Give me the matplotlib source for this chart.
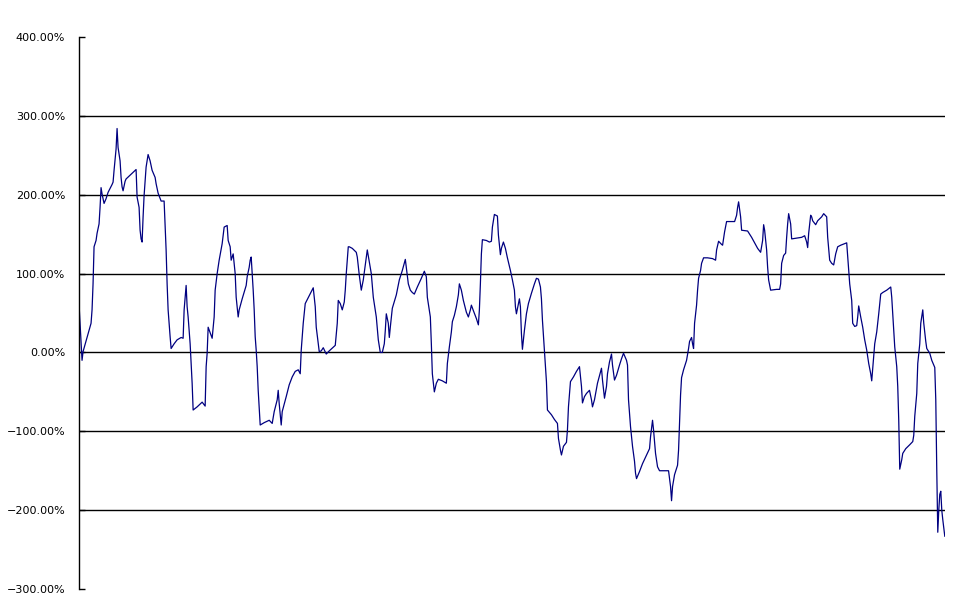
import numpy as np
import matplotlib.pyplot as plt
from matplotlib.ticker import MultipleLocator, FuncFormatter

# observation number (trading day) and cumulative return in %
day = [0, 3, 4, 12, 13, 14, 15, 17, 18, 20, 21, 22, 23, 25, 27, 29, 33, 34, 35, 37,
       38, 39, 41, 42, 43, 44, 46, 47, 52, 57, 58, 60, 61, 62, 63, 64, 65, 67, 69, 71,
       73, 76, 77, 79, 82, 85, 87, 88, 89, 91, 92, 95, 98, 102, 104, 105, 106, 107, 108, 109,
       111, 112, 113, 114, 118, 123, 126, 127, 128, 129,
       133, 135, 136, 138, 140, 143, 145, 148, 149, 151, 152, 153, 154, 156, 157, 159, 160, 163,
       167, 168, 170, 171, 172, 173, 174, 175, 176, 177, 178, 179, 181, 185, 190, 193, 195, 198,
       199, 200, 202, 203, 207, 210, 213, 216, 219, 221, 222, 224, 226, 230, 234, 236, 237, 239,
       240, 242, 244, 247, 250, 256, 258, 259, 261, 263, 265, 266, 267, 269, 270,
       273, 277, 278, 280, 282, 284, 286, 288, 290, 292, 294, 297, 299, 301, 303, 305, 306, 307,
       309, 310, 311, 313, 317, 320, 323, 326, 327, 329, 331, 333, 335, 338, 342, 345, 347, 348,
       351, 352, 353, 355, 357, 359, 363, 367, 368, 370, 372, 373, 375, 377, 379, 380, 382, 384,
       387, 389, 391, 392, 394, 397, 399, 400, 401, 402, 403, 407,
       410, 412, 413, 415, 418, 419, 421, 422, 424, 426, 428, 431, 433, 435, 436, 437, 439, 440,
       441, 442, 443, 445, 447, 449, 452, 455, 457, 459, 461, 462, 463, 465, 467, 468, 472, 475,
       478, 479, 481, 482, 484, 487, 488, 489, 491, 494, 497, 500, 502, 503, 505, 507, 510, 512,
       513, 515, 518, 522, 523, 525, 527, 528, 530, 532, 533, 535, 537, 540, 542, 544, 547, 548,
       549, 551, 553, 555, 556, 557,
       560, 563, 567, 570, 571, 573, 574, 576, 578, 580, 589, 591, 592, 593, 595, 597, 598, 599,
       600, 601, 602, 604, 607, 609, 610, 612, 613, 614, 615, 617, 618, 619, 621, 622, 624, 628,
       633, 636, 637, 639, 642, 643, 645, 647, 655, 657, 658, 659, 661, 662, 668, 672, 675, 678,
       681, 683, 684, 685, 687, 688, 689, 691, 697,
       700, 701, 702, 704, 706, 707, 708, 709, 711, 712, 717, 722, 725, 727, 728, 729, 731, 732,
       733, 736, 738, 742, 744, 747, 748, 750, 752, 754, 756, 758, 761, 765, 767, 768, 770, 772,
       773, 775, 777, 778, 779, 781, 783, 785, 787, 789, 791, 792, 794, 795, 797, 799, 801, 803,
       807, 811, 812, 813, 815, 817, 818, 819, 820, 822, 823, 826, 830, 833, 834, 835, 837, 838,
       840, 841, 843, 844, 846, 847, 850, 852, 855, 856, 857, 858, 859, 860, 861, 862, 863, 865]

ret = [61, -10, 1, 37, 54, 87, 134, 142, 151, 163, 184, 209, 201, 189, 195, 203, 213, 216, 231, 258,
       284, 260, 243, 222, 210, 205, 217, 220, 226, 232, 197, 184, 155, 144, 140, 172, 199, 235, 251, 243,
       231, 222, 214, 202, 192, 192, 130, 87, 54, 20, 5, 11, 16, 19, 18, 54, 70, 85, 58, 45,
       11, -14, -39, -73, -69, -63, -68, -18, -1, 32,
       18, 45, 79, 100, 117, 138, 159, 161, 142, 134, 117, 121, 125, 100, 70, 45, 54, 68,
       85, 96, 108, 117, 121, 100, 79, 54, 20, 3, -18, -48, -92, -89, -86, -90, -75, -60,
       -48, -65, -92, -75, -56, -41, -31, -24, -22, -27, 3, 37, 62, 72, 82, 58, 32, 11,
       1, 2, 6, -2, 2, 9, 37, 66, 62, 54, 64, 79, 100, 134, 134,
       132, 127, 121, 98, 79, 92, 111, 130, 115, 100, 70, 45, 16, 0, 0, 11, 28, 49,
       37, 19, 32, 56, 73, 92, 104, 118, 108, 87, 79, 76, 74, 83, 94, 103, 96, 70,
       45, 11, -27, -50, -39, -34, -36, -39, -14, 7, 26, 39, 47, 58, 73, 87, 79, 66,
       51, 45, 54, 60, 53, 43, 35, 54, 87, 125, 143, 142,
       140, 141, 159, 175, 173, 149, 124, 132, 140, 132, 120, 104, 92, 79, 58, 49, 62, 68,
       58, 24, 4, 28, 49, 62, 75, 87, 94, 93, 83, 68, 41, 3, -37, -73, -79, -85,
       -90, -109, -124, -130, -119, -114, -98, -69, -37, -31, -24, -18, -43, -64, -56, -52, -48, -60,
       -69, -60, -39, -20, -35, -58, -43, -27, -12, -2, -16, -35, -29, -16, -8, -1, -10, -16,
       -60, -94, -119, -138, -153, -160,
       -151, -141, -130, -122, -107, -86, -98, -128, -145, -150, -150, -170, -188, -170, -155, -147, -143, -124,
       -90, -54, -32, -22, -10, 5, 14, 19, 11, 5, 37, 60, 79, 94, 104, 113, 120, 120,
       119, 117, 130, 141, 137, 136, 153, 166, 166, 174, 184, 191, 172, 155, 154, 146, 139, 132,
       127, 142, 162, 155, 130, 108, 92, 79, 80,
       80, 87, 113, 123, 126, 146, 163, 176, 163, 144, 145, 146, 148, 140, 133, 151, 174, 172,
       167, 162, 167, 172, 176, 172, 146, 117, 113, 111, 125, 134, 136, 138, 139, 121, 87, 66,
       37, 33, 34, 45, 59, 45, 32, 16, 3, -14, -27, -36, -5, 11, 26, 49, 74, 76,
       79, 83, 70, 49, 7, -18, -43, -86, -148, -136, -128, -122, -117, -113, -105, -81, -52, -14,
       11, 37, 54, 37, 14, 5, -1, -10, -19, -60, -150, -228, -200, -180, -176, -200, -212, -233]

fig = plt.figure(figsize=(9.71, 6.05), dpi=100)
ax = fig.add_axes([0.0814, 0.0264, 0.8916, 0.9124])

ax.set_xlim(0, 865)
ax.set_ylim(-300, 400)
ax.yaxis.set_major_locator(MultipleLocator(100))
ax.yaxis.set_major_formatter(FuncFormatter(lambda v, p: f'{v:.2f}%'.replace('-', '\u2212')))
ax.set_xticks([])

# gridlines only on the inner ticks (none at the top / bottom limit)
ticks = [t for t in ax.get_yticks() if -300 < t < 400]
ax.hlines(ticks, 0, 1, transform=ax.get_yaxis_transform(), color='black', lw=1, zorder=1)

ax.plot(day, ret, color='#000080', lw=0.9, zorder=2)

for s in ['top', 'right', 'bottom']:
    ax.spines[s].set_visible(False)
ax.spines['left'].set_linewidth(1)

ax.tick_params(axis='y', direction='in', length=4, width=1, pad=10, labelsize=8)

fig.savefig('out.png', dpi=100)
